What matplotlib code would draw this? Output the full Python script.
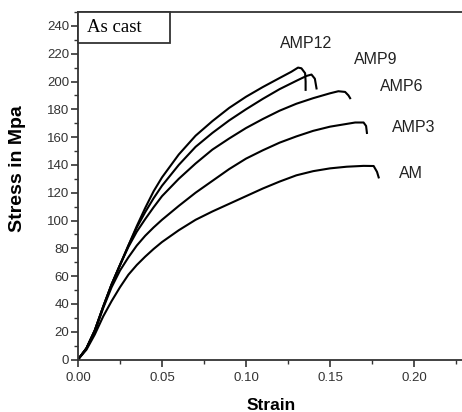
"""
Stress-strain curves of the as-cast alloys (AM, AMP3 ... AMP12).
Output: out.png
"""
import matplotlib.pyplot as plt
from matplotlib.patches import Rectangle
from matplotlib.ticker import MultipleLocator

plt.rcParams['font.family'] = ['Liberation Sans', 'DejaVu Sans']

# === Data ===
am_strain = [0, 0.005, 0.01, 0.015, 0.02, 0.025, 0.03, 0.035, 0.04, 0.045, 0.05, 0.06, 0.07,
             0.08, 0.09, 0.10, 0.11, 0.12, 0.13, 0.14, 0.15, 0.16, 0.17, 0.176, 0.178, 0.179]
am_stress = [0, 7, 18, 31, 42, 52, 61, 68, 74, 79.5, 84.5, 93, 100.5,
             106.5, 112, 117.5, 123, 128, 132.5, 135.5, 137.5, 138.7, 139.3, 139.2, 135, 131]

amp3_strain = [0, 0.005, 0.01, 0.015, 0.02, 0.025, 0.03, 0.035, 0.04, 0.045, 0.05, 0.06, 0.07,
               0.08, 0.09, 0.10, 0.11, 0.12, 0.13, 0.14, 0.15, 0.16, 0.165, 0.17, 0.1715, 0.172]
amp3_stress = [0, 8, 20, 37, 52, 64, 73.5, 82, 89, 95, 100.5, 110.5, 120,
               128.5, 137, 144.5, 150.5, 156, 160.5, 164.5, 167.5, 169.5, 170.5, 170.5, 168, 163]

amp6_strain = [0, 0.005, 0.01, 0.015, 0.02, 0.025, 0.03, 0.035, 0.04, 0.045, 0.05, 0.06, 0.07,
               0.08, 0.09, 0.10, 0.11, 0.12, 0.13, 0.14, 0.15, 0.155, 0.159, 0.161, 0.162]
amp6_stress = [0, 8, 21, 38, 54, 68, 81, 92, 101, 109.5, 117.5, 130, 141,
               151, 159, 166.5, 173, 179, 184, 188, 191.5, 193, 192.5, 190, 188]

amp9_strain = [0, 0.005, 0.01, 0.015, 0.02, 0.025, 0.03, 0.035, 0.04, 0.045, 0.05, 0.06, 0.07,
               0.08, 0.09, 0.10, 0.11, 0.12, 0.13, 0.136, 0.139, 0.141, 0.142]
amp9_stress = [0, 8, 21, 38, 54, 68, 82, 95, 106, 116, 125, 140, 153,
               163, 172, 180, 187.5, 194.5, 200.5, 204, 205, 202, 195]

amp12_strain = [0, 0.005, 0.01, 0.015, 0.02, 0.025, 0.03, 0.035, 0.04, 0.045, 0.05, 0.06, 0.07,
                0.08, 0.09, 0.10, 0.11, 0.12, 0.127, 0.131, 0.133, 0.1352, 0.1355, 0.1355]
amp12_stress = [0, 8, 21, 38, 54, 68, 82, 96, 109, 121, 131, 147.5, 161,
                171.5, 181, 189, 196, 202.5, 207, 210, 209.5, 206, 200, 194]

names = ['AM', 'AMP3', 'AMP6', 'AMP9', 'AMP12']
label_x = [0.191, 0.187, 0.180, 0.164, 0.120]
label_y = [134, 167, 196.5, 216, 227]

curves = [(am_strain, am_stress), (amp3_strain, amp3_stress), (amp6_strain, amp6_stress),
          (amp9_strain, amp9_stress), (amp12_strain, amp12_stress)]

# === Figure ===
W, H = 462, 412
x0, x1, y_top, y_bot = 78, 462, 12, 359.5
fig = plt.figure(figsize=(W / 100, H / 100), dpi=100)
ax = fig.add_axes([x0 / W, 1 - y_bot / H, (x1 - x0) / W, (y_bot - y_top) / H])

for (x, y) in curves:
    ax.plot(x, y, color='black', linewidth=1.5, solid_joinstyle='round')

for name, lx, ly in zip(names, label_x, label_y):
    ax.text(lx, ly, name, fontsize=11.5, color='#222222', va='center', ha='left')

ax.set_xlim(0, 0.2286)
ax.set_ylim(0, 250)
ax.xaxis.set_major_locator(MultipleLocator(0.05))
ax.xaxis.set_minor_locator(MultipleLocator(0.025))
ax.yaxis.set_major_locator(MultipleLocator(20))
ax.yaxis.set_minor_locator(MultipleLocator(10))
ax.xaxis.set_major_formatter(plt.FuncFormatter(lambda v, p: f'{v:.2f}'))

for s in ['left', 'bottom', 'top']:
    ax.spines[s].set_linewidth(1.3)
    ax.spines[s].set_color('#333333')
ax.spines['right'].set_visible(False)
ax.tick_params(which='major', direction='out', length=5, width=1.2, colors='#333333',
               labelsize=9.5)
ax.tick_params(which='minor', direction='out', length=3, width=1.0, colors='#333333')
ax.tick_params(axis='x', pad=4)
ax.tick_params(axis='y', pad=1.5)

# axis titles placed to match the reference
fig.text(271 / W, 1 - 405 / H, 'Strain', fontsize=12.5, fontweight='bold',
         ha='center', va='center')
fig.text(18 / W, 1 - 169 / H, 'Stress in Mpa', fontsize=14, fontweight='bold',
         rotation=90, ha='center', va='center')

# "As cast" box in the top-left corner
bw = (170 - x0) / (x1 - x0)
bh = (42.7 - y_top) / (y_bot - y_top)
ax.add_patch(Rectangle((0, 1 - bh), bw, bh, transform=ax.transAxes, facecolor='white',
                       edgecolor='#333333', linewidth=1.3, clip_on=False, zorder=3))
ax.text((87 - x0) / (x1 - x0), (y_bot - 28) / (y_bot - y_top), 'As cast',
        transform=ax.transAxes, fontsize=13.5, family=['Liberation Serif', 'DejaVu Serif'],
        va='center', ha='left', zorder=4)

fig.savefig('out.png', dpi=100, facecolor='white')
plt.close()
